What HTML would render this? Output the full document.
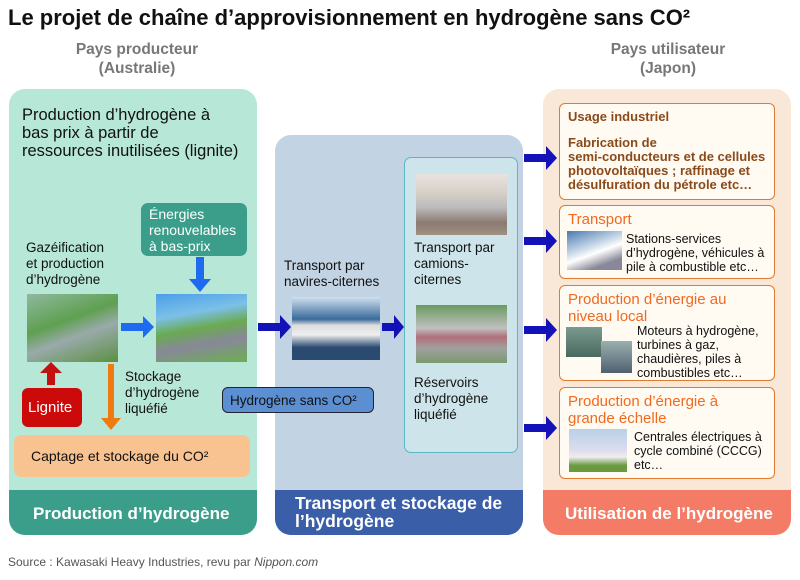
<!DOCTYPE html>
<html><head><meta charset="utf-8"><style>
*{margin:0;padding:0;box-sizing:border-box}
body{width:800px;height:580px;background:#fff;position:relative;font-family:"Liberation Sans",Arial,sans-serif;overflow:hidden;color:#111}
.a{position:absolute}
.panel{position:absolute;border-radius:16px;overflow:hidden}
.foot{position:absolute;left:0;right:0;bottom:0;height:45px;color:#fff;font-weight:bold;font-size:17px}
.t{position:absolute;font-size:13.5px;line-height:16px}
.rb{position:absolute;left:559px;width:216px;border:1px solid #e07a30;border-radius:6px;background:#fffaf2}
.oh{color:#f06a20;font-size:15px;line-height:17px}
.img{position:absolute}
</style></head><body>
<div class="a" style="left:8px;top:5px;font-size:22px;font-weight:bold;">Le projet de chaîne d’approvisionnement en hydrogène sans CO²</div>
<div class="a" style="left:37px;top:40px;width:200px;text-align:center;color:#777;font-weight:bold;font-size:15.5px;line-height:19px">Pays producteur<br>(Australie)</div>
<div class="a" style="left:568px;top:40px;width:200px;text-align:center;color:#777;font-weight:bold;font-size:15.5px;line-height:19px">Pays utilisateur<br>(Japon)</div>

<!-- left panel -->
<div class="panel" style="left:9px;top:89px;width:248px;height:446px;background:#b7e7d6">
<div class="foot" style="background:#3a9e8a;padding:14px 0 0 24px">Production d’hydrogène</div></div>
<div class="a" style="left:22px;top:106px;font-size:16.5px;line-height:18px">Production d’hydrogène à<br>bas prix à partir de<br>ressources inutilisées (lignite)</div>
<div class="a" style="left:141px;top:203px;width:106px;height:53px;background:#3a9e8a;border-radius:7px;color:#fff;font-size:14px;line-height:16px;padding:3px 0 0 8px">Énergies<br>renouvelables<br>à bas-prix</div>
<div class="t" style="left:26px;top:240px;">Gazéification<br>et production<br>d’hydrogène</div>
<div class="img" style="left:27px;top:294px;width:91px;height:68px;background:linear-gradient(160deg,#8fb8a0,#5fa050 40%,#9aa 60%,#5a9040)"></div>
<div class="img" style="left:156px;top:294px;width:91px;height:68px;background:linear-gradient(170deg,#4a9ee8,#7cc0e8 30%,#6aaa50 50%,#889 70%,#6ab050)"></div>
<div class="t" style="left:125px;top:369px;">Stockage<br>d’hydrogène<br>liquéfié</div>
<div class="a" style="left:22px;top:388px;width:60px;height:39px;background:#cc0a0a;border-radius:6px;color:#fff;font-size:15px;padding:11px 0 0 6px">Lignite</div>
<div class="a" style="left:14px;top:435px;width:236px;height:42px;background:#f9c291;border-radius:8px;font-size:14px;padding:13px 0 0 17px">Captage et stockage du CO²</div>

<!-- middle panel -->
<div class="panel" style="left:275px;top:135px;width:248px;height:400px;background:#c2d3e3">
<div class="foot" style="background:#3a5ea8;padding:4px 0 0 20px;line-height:18px;font-size:17.5px">Transport et stockage de<br>l’hydrogène</div></div>
<div class="a" style="left:404px;top:157px;width:114px;height:296px;background:#cde5ea;border:1px solid #5ab8c0;border-radius:7px"></div>
<div class="t" style="left:284px;top:258px;">Transport par<br>navires-citernes</div>
<div class="img" style="left:292px;top:297px;width:88px;height:63px;background:linear-gradient(180deg,#cfe0f0,#3a6a9a 35%,#ddd 45%,#eee 60%,#2a4a70 80%)"></div>
<div class="img" style="left:416px;top:174px;width:91px;height:61px;background:linear-gradient(180deg,#e8e4e0,#d8d0c8 30%,#bbb 55%,#8a7a70 80%,#a09080)"></div>
<div class="t" style="left:414px;top:240px;">Transport par<br>camions-<br>citernes</div>
<div class="img" style="left:416px;top:305px;width:91px;height:58px;background:linear-gradient(180deg,#6a9a60,#c0c0c0 40%,#b0707a 55%,#a0a0a0 75%,#7a9a70)"></div>
<div class="t" style="left:414px;top:375px;">Réservoirs<br>d’hydrogène<br>liquéfié</div>
<div class="a" style="left:222px;top:387px;width:152px;height:26px;background:#5b8fd2;border:1px solid #223;border-radius:6px;font-size:13.5px;padding:5px 0 0 7px">Hydrogène sans CO²</div>

<!-- right panel -->
<div class="panel" style="left:543px;top:89px;width:248px;height:446px;background:#f9e7d7">
<div class="foot" style="background:#f47c66;padding:14px 0 0 22px">Utilisation de l’hydrogène</div></div>
<div class="rb" style="top:103px;height:97px;padding:6px 0 0 8px;color:#8a4a1a;font-weight:bold;font-size:13px;line-height:14px">Usage industriel<br><div style="height:12px"></div>Fabrication de<br>semi-conducteurs et de cellules<br>photovoltaïques ; raffinage et<br>désulfuration du pétrole etc…</div>
<div class="rb" style="top:205px;height:74px;padding:5px 0 0 8px"><div class="oh">Transport</div></div>
<div class="img" style="left:567px;top:231px;width:55px;height:39px;background:linear-gradient(160deg,#4a7ab0,#c8d8e8 40%,#fff 55%,#889 80%)"></div>
<div class="t" style="left:626px;top:232px;font-size:12.5px;line-height:14px">Stations-services<br>d’hydrogène, véhicules à<br>pile à combustible etc…</div>
<div class="rb" style="top:285px;height:96px;padding:5px 0 0 8px"><div class="oh">Production d’énergie au<br>niveau local</div></div>
<div class="img" style="left:566px;top:327px;width:36px;height:30px;background:linear-gradient(#7a9a90,#4a6a60)"></div>
<div class="img" style="left:601px;top:341px;width:31px;height:32px;background:linear-gradient(#9ab0b0,#506070)"></div>
<div class="t" style="left:637px;top:324px;font-size:12.5px;line-height:14px">Moteurs à hydrogène,<br>turbines à gaz,<br>chaudières, piles à<br>combustibles etc…</div>
<div class="rb" style="top:387px;height:92px;padding:5px 0 0 8px"><div class="oh">Production d’énergie à<br>grande échelle</div></div>
<div class="img" style="left:569px;top:429px;width:58px;height:43px;background:linear-gradient(180deg,#b8d0e8,#dde 50%,#eee 65%,#6a9a40 85%)"></div>
<div class="t" style="left:634px;top:430px;font-size:12.5px;line-height:14px">Centrales électriques à<br>cycle combiné (CCCG)<br>etc…</div>

<svg class="a" style="left:0;top:0" width="800" height="580">
<g fill="#1f6bf0">
<path d="M121 323h22v-7l11 11-11 11v-7h-22z"/>
<path d="M196 257h8v22h7l-11 13-11-13h7z"/>
</g>
<path d="M47 385v-12h-7l11-11 11 11h-7v12z" fill="#c41010"/>
<path d="M108 364h6v54h7l-10 12-10-12h7z" fill="#f07a10"/>
<g fill="#1212b8">
<path d="M258 323h22v-8l11 12-11 12v-8h-22z"/>
<path d="M382 323h12v-8l10 12-10 12v-8h-12z"/>
<path d="M524 154h22v-8l11 12-11 12v-8h-22z"/>
<path d="M524 237h22v-8l11 12-11 12v-8h-22z"/>
<path d="M524 326h22v-8l11 12-11 12v-8h-22z"/>
<path d="M524 424h22v-8l11 12-11 12v-8h-22z"/>
</g>
</svg>
<div class="a" style="left:8px;top:555px;font-size:12px;color:#555">Source : Kawasaki Heavy Industries, revu par <i>Nippon.com</i></div>
</body></html>
